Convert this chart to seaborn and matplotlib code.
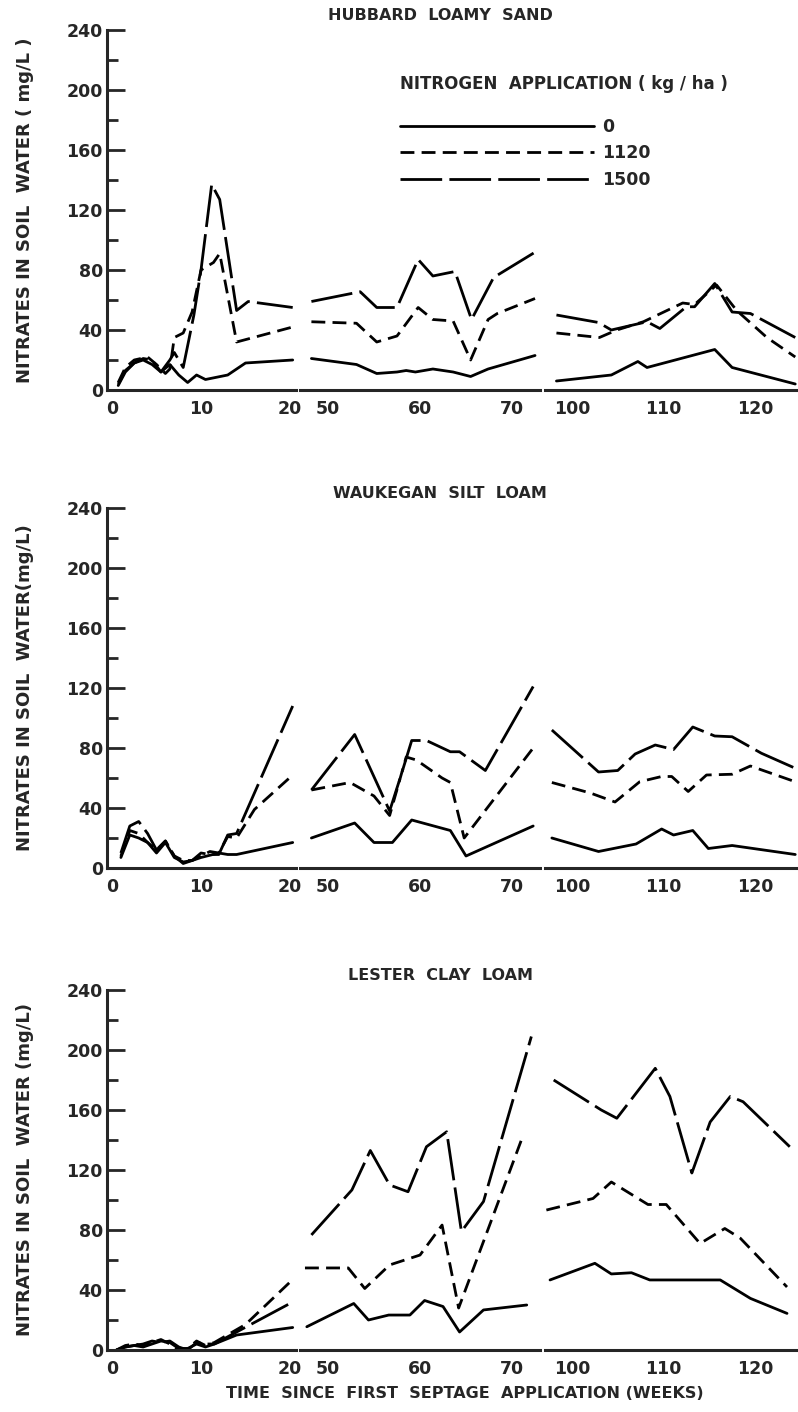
import matplotlib
matplotlib.use("Agg")
import matplotlib.pyplot as plt
import numpy as np
import pandas as pd
import seaborn as sns

# ---------------- data (weeks since first septage application, nitrate mg/L) -------------
rates = ["0", "1120", "1500"]

# Hubbard loamy sand
hub_0_wk = [0.7, 1.5, 2.5, 3.5, 4.5, 5.5, 6.5, 7.5, 8.5, 9.5, 10.5, 13, 15, 20.3,
            48.2, 53.1, 55.3, 57.5, 58.5, 59.5, 61.4, 63.6, 65.5, 67.4, 72.5,
            98.3, 104.3, 107.2, 108.2, 115.6, 117.5, 124.4]
hub_0_no3 = [3, 12, 18, 20, 17, 12, 17, 10, 5, 10, 7, 10, 18, 20,
             21, 17, 11, 12, 13, 12, 14, 12, 9, 14, 23,
             6, 10, 19, 15, 27, 15, 4]
hub_1120_wk = [0.7, 1.5, 2.5, 4, 5, 6, 6.5, 7, 8, 9, 10, 11.4, 12.1, 14, 20.3,
               48.2, 53.1, 55.3, 57.5, 59.8, 61.4, 63.6, 65.5, 67.4, 68.4, 72.5,
               98.3, 103, 104.9, 107.8, 112.1, 113.4, 115.8, 118, 121.3, 124.4]
hub_1120_no3 = [5, 15, 20, 22, 17, 11, 14, 35, 38, 52, 80, 85, 91, 32, 42,
                45.5, 44.5, 32, 36, 55, 47, 46, 20, 47, 51, 61,
                38, 35, 40, 45.5, 58, 57, 70, 53, 35, 22]
hub_1500_wk = [0.7, 1.5, 2.5, 3.5, 4.5, 5.5, 6.5, 7, 8, 9.2, 10, 11.2, 12.1, 14, 15.3, 20.3,
               48.2, 53.5, 55.3, 57.5, 59.8, 61.4, 63.8, 65.6, 68, 72.8,
               98.3, 102.9, 104.3, 108.2, 109.6, 112.5, 113.4, 115.6, 117.5, 119.5, 124.4]
hub_1500_no3 = [4, 13, 18, 21, 20, 12, 20, 25, 15, 50, 80, 137, 127, 53, 59, 55,
                59, 65.5, 55, 55, 87, 76, 79, 47, 75, 93,
                50, 45, 40, 45.5, 41, 55.5, 55.5, 71, 52, 51, 35]

# Waukegan silt loam
wau_0_wk = [1, 2, 3, 4, 5, 6, 7, 8, 9, 10, 12, 13, 14, 20.3,
            48.2, 52.9, 55, 57, 59.1, 63.3, 65, 72.3,
            97.8, 102.9, 107, 109.8, 111.1, 113.2, 114.9, 117.5, 124.4]
wau_0_no3 = [7, 22, 20, 17, 10, 17, 7, 4, 5, 7, 10, 9, 9, 17,
             20, 30, 17, 17, 32, 25, 8, 28,
             20, 11, 16, 26, 22, 25, 13, 15, 9]
wau_1120_wk = [1, 2, 3, 4, 5, 6, 7, 8, 9, 10, 11, 12, 13, 14, 16, 20.3,
               48.2, 52.4, 55, 56.7, 58.5, 59.6, 62.4, 63.3, 64.8, 72.3,
               97.8, 102, 104.7, 107.4, 109.8, 110.9, 112.7, 114.7, 117.5, 119.5, 124.4]
wau_1120_no3 = [8, 25, 23, 17, 12, 18, 8, 5, 5, 8, 11, 10, 21, 20, 39, 62,
                52, 57, 48, 35, 74, 72, 60, 57, 20, 80,
                57, 50, 44, 57.5, 61, 61, 51, 62, 62.5, 68, 57.5]
wau_1500_wk = [1, 2, 3, 4, 5, 6, 7, 8, 9, 10, 11, 12, 13, 14, 20.3,
               48.2, 52.9, 56.7, 58, 59.1, 60.7, 63.3, 64.3, 67.1, 72.3,
               97.8, 102.9, 105, 106.9, 109.1, 111.1, 113.2, 115.6, 117.5, 120.7, 124.4]
wau_1500_no3 = [10, 28, 31, 23, 12, 18, 8, 3, 5, 10, 9, 9, 22, 23, 108,
                52, 89, 38, 63, 85, 85, 77.5, 77.5, 65, 121,
                92, 64, 65, 76, 82, 79, 94, 88, 87.5, 76.5, 66.5]

# Lester clay loam
les_0_wk = [0.5, 1.5, 2.5, 3.5, 4.5, 5.5, 6.5, 7.5, 8.5, 9.5, 10.5, 11.5, 14, 20.3,
            47.7, 52.8, 54.4, 56.6, 58.9, 60.5, 62.5, 64.3, 66.9, 71.6,
            97.6, 102.5, 104.3, 106.5, 108.5, 116.2, 119.5, 123.5]
les_0_no3 = [0, 2, 3, 2, 4, 6, 5, 1, 1, 4, 2, 4, 10, 15,
             15.5, 31, 20, 23.3, 23.3, 33, 29, 12, 26.7, 30,
             46.7, 57.8, 50.7, 51.5, 46.7, 46.7, 34.4, 24.4]
les_1120_wk = [0.5, 1.5, 2.5, 3.5, 4.5, 5.5, 6.5, 7.5, 8.5, 9.5, 10.5, 11.5, 15, 20.3,
               47.5, 52.2, 54, 56.7, 60, 62.4, 64.2, 71.2,
               97.2, 102.3, 104.3, 108.3, 110.3, 114, 116.7, 118.4, 123.5]
les_1120_no3 = [0, 3, 4, 3, 5, 7, 4, 0, 1, 6, 3, 5, 17, 47,
                54.7, 54.7, 41, 56.7, 63.3, 83.3, 28, 143,
                93.3, 101, 112, 97, 97, 71, 81, 74.5, 42]
les_1500_wk = [0.5, 1.5, 2.5, 3.5, 4.5, 5.5, 6.5, 7.5, 8.5, 9.5, 10.5, 11.5, 14, 20.3,
               48.2, 52.6, 54.6, 56.7, 58.7, 60.7, 62.9, 64.5, 66.9, 72.1,
               98, 103.2, 104.9, 109.1, 110.7, 113.1, 115.1, 117.3, 118.7, 123.8]
les_1500_no3 = [0, 2, 3, 4, 6, 5, 6, 2, 0, 5, 4, 4, 12, 32,
                76.7, 106.7, 133, 110, 105.5, 135.5, 145.5, 79, 99, 209,
                180, 160, 154.5, 187.8, 169, 118, 152, 169, 165.5, 135.5]

soil_titles = ["HUBBARD  LOAMY  SAND", "WAUKEGAN  SILT  LOAM", "LESTER  CLAY  LOAM"]
ylabels = ["NITRATES IN SOIL  WATER ( mg/L )",
           "NITRATES IN SOIL  WATER(mg/L)",
           "NITRATES IN SOIL  WATER (mg/L)"]
seg_ticks = [[0, 10, 20], [50, 60, 70], [100, 110, 120]]
y_major = [0, 40, 80, 120, 160, 200, 240]
legend_title = "NITROGEN  APPLICATION ( kg / ha )"
x_label = "TIME  SINCE  FIRST  SEPTAGE  APPLICATION (WEEKS)"


def soil_frame(series):
    parts = []
    for rate, (wk, val) in zip(rates, series):
        parts.append(pd.DataFrame({"week": wk, "no3": val, "rate": rate}))
    return pd.concat(parts, ignore_index=True)


frames = [
    soil_frame([(hub_0_wk, hub_0_no3), (hub_1120_wk, hub_1120_no3), (hub_1500_wk, hub_1500_no3)]),
    soil_frame([(wau_0_wk, wau_0_no3), (wau_1120_wk, wau_1120_no3), (wau_1500_wk, wau_1500_no3)]),
    soil_frame([(les_0_wk, les_0_no3), (les_1120_wk, les_1120_no3), (les_1500_wk, les_1500_no3)]),
]

# ---------------- style ----------------
sns.set_style("ticks")
plt.rcParams["font.family"] = ["DejaVu Sans"]
plt.rcParams["axes.linewidth"] = 2.2

W, H = 798, 1412
fig = plt.figure(figsize=(W / 100, H / 100), dpi=100)

# pixel layout
row_y = [(390, 30), (868, 508), (1350, 990)]          # (y of 0, y of 240)
seg_px = [(107, 296), (300, 540), (545, 798)]
seg_lim = [(-0.56, 20.67), (46.96, 73.04), (97.05, 124.7)]

dash_map = {"0": "", "1120": (5, 2.6), "1500": (15, 2.6)}
LW = 2.0

legend_src = None
for r in range(3):
    y0, y1 = row_y[r]
    df = frames[r]
    for s in range(3):
        x0, x1 = seg_px[s]
        ax = fig.add_axes([x0 / W, 1 - y0 / H, (x1 - x0) / W, (y0 - y1) / H])
        ax.patch.set_alpha(0)
        lo, hi = seg_lim[s]
        sub = df[(df["week"] >= lo) & (df["week"] <= hi)]
        sns.lineplot(data=sub, x="week", y="no3", style="rate", style_order=rates,
                     dashes=dash_map, color="black", lw=LW, estimator=None,
                     legend=(r == 0 and s == 0), ax=ax)
        if r == 0 and s == 0:
            legend_src = ax
        ax.set_xlim(lo, hi)
        ax.set_ylim(0, 240)
        ax.set_xlabel("")
        ax.set_ylabel("")
        sns.despine(ax=ax, top=True, right=True, left=(s != 0))
        ax.set_xticks(seg_ticks[s])
        ax.set_xticklabels([str(t) for t in seg_ticks[s]], fontsize=12.5, fontweight="bold")
        ax.tick_params(axis="x", length=0, pad=7)
        if s == 0:
            ax.set_yticks(y_major)
            ax.set_yticklabels([str(t) for t in y_major], fontsize=12.5, fontweight="bold")
            ax.set_yticks(np.arange(20, 240, 40), minor=True)
            ax.tick_params(axis="y", which="major", direction="in", length=13, width=2, pad=3)
            ax.tick_params(axis="y", which="minor", direction="in", length=8, width=2)
            ax.set_ylabel(ylabels[r], fontsize=13, fontweight="bold")
            ax.yaxis.set_label_coords((34 - x0) / (x1 - x0), 0.5)
        else:
            ax.set_yticks([])
    fig.text(440 / W, 1 - (y1 - 15) / H, soil_titles[r], ha="center", va="center",
             fontsize=11.5, fontweight="bold")

# legend
handles, labels = legend_src.get_legend_handles_labels()
legend_src.get_legend().remove()
for h in handles:
    h.set_color("black")
    h.set_linewidth(LW)
leg = fig.legend(handles, labels, loc="upper left",
                 bbox_to_anchor=(384 / W, 1 - 59 / H), bbox_transform=fig.transFigure,
                 frameon=False, title=legend_title, alignment="left",
                 handlelength=11.2, handletextpad=0.45, labelspacing=0.5,
                 prop={"size": 12.5, "weight": "bold"},
                 title_fontproperties={"size": 12, "weight": "bold"})
leg._legend_box.sep = 18

fig.text(465 / W, 1 - 1394 / H, x_label, ha="center", va="center",
         fontsize=11.5, fontweight="bold")

fig.savefig("out.png", dpi=100)
